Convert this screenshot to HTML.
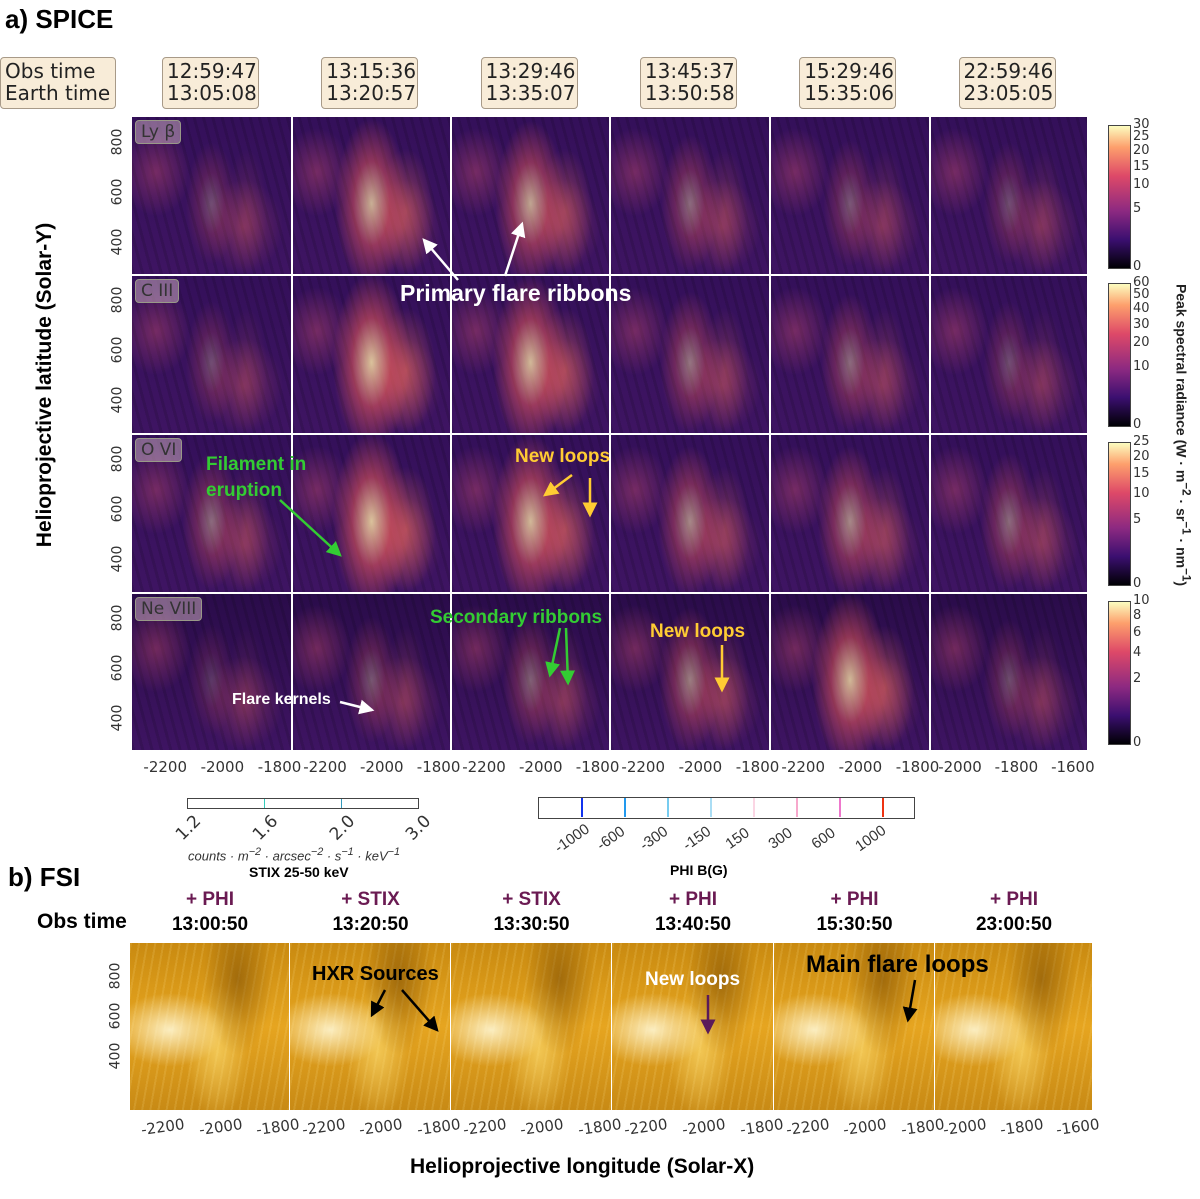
<!DOCTYPE html>
<html><head><meta charset="utf-8">
<style>
body{margin:0;width:1200px;height:1199px;background:#fff;position:relative;overflow:hidden;font-family:"Liberation Sans","DejaVu Sans",sans-serif;}
.a{position:absolute;}
.tb{position:absolute;background:#f8ecd8;border:1px solid #a89a88;border-radius:4px;font-family:"DejaVu Sans",sans-serif;font-size:20px;line-height:22px;color:#222;padding:2px 4px;text-align:center;box-sizing:border-box;}
.panel{position:absolute;overflow:hidden;}
.lab{position:absolute;left:3px;top:3px;background:rgba(200,170,190,0.55);border:1px solid #998;border-radius:4px;font-family:"DejaVu Sans",sans-serif;font-size:17px;color:#333;padding:1px 5px;}
.tk{position:absolute;font-family:"DejaVu Sans",sans-serif;font-size:14px;color:#333;}
.ann{position:absolute;font-weight:bold;white-space:nowrap;}
.cb{position:absolute;border:1px solid #444;}
</style></head><body>
<div class="a" style="left:5px;top:4px;font-size:26px;font-weight:bold;">a) SPICE</div>
<div class="tb" style="left:0;top:57px;width:116px;height:52px;text-align:left;">Obs time<br>Earth time</div>
<div id="root"></div>
<svg class="a" style="left:0;top:0" width="1200" height="1199" id="ov">
<defs>
<marker id="mw" markerWidth="6" markerHeight="6" refX="5" refY="3" orient="auto"><path d="M0,0L6,3L0,6z" fill="#fff"/></marker>
<marker id="mg" markerWidth="6" markerHeight="6" refX="5" refY="3" orient="auto"><path d="M0,0L6,3L0,6z" fill="#3c3"/></marker>
<marker id="my" markerWidth="6" markerHeight="6" refX="5" refY="3" orient="auto"><path d="M0,0L6,3L0,6z" fill="#fc3"/></marker>
<marker id="mk" markerWidth="6" markerHeight="6" refX="5" refY="3" orient="auto"><path d="M0,0L6,3L0,6z" fill="#000"/></marker>
<marker id="mp" markerWidth="6" markerHeight="6" refX="5" refY="3" orient="auto"><path d="M0,0L6,3L0,6z" fill="#5a1a5a"/></marker>
</defs>
<g stroke-width="2.5" fill="none">
<line x1="458" y1="280" x2="424" y2="240" stroke="#fff" marker-end="url(#mw)"/>
<line x1="505" y1="276" x2="522" y2="224" stroke="#fff" marker-end="url(#mw)"/>
<line x1="280" y1="500" x2="340" y2="555" stroke="#3c3" marker-end="url(#mg)"/>
<line x1="572" y1="475" x2="545" y2="495" stroke="#fc3" marker-end="url(#my)"/>
<line x1="590" y1="478" x2="590" y2="515" stroke="#fc3" marker-end="url(#my)"/>
<line x1="560" y1="628" x2="550" y2="675" stroke="#3c3" marker-end="url(#mg)"/>
<line x1="566" y1="628" x2="568" y2="683" stroke="#3c3" marker-end="url(#mg)"/>
<line x1="722" y1="645" x2="722" y2="690" stroke="#fc3" marker-end="url(#my)"/>
<line x1="340" y1="702" x2="372" y2="710" stroke="#fff" marker-end="url(#mw)"/>
<line x1="385" y1="990" x2="372" y2="1015" stroke="#000" marker-end="url(#mk)"/>
<line x1="402" y1="990" x2="437" y2="1030" stroke="#000" marker-end="url(#mk)"/>
<line x1="708" y1="995" x2="708" y2="1032" stroke="#5a1a5a" marker-end="url(#mp)"/>
<line x1="915" y1="980" x2="908" y2="1020" stroke="#000" marker-end="url(#mk)"/>
</g>
</svg>
<div class="ann" style="left:400px;top:280px;font-size:23px;color:#fff;">Primary flare ribbons</div>
<div class="ann" style="left:206px;top:452px;font-size:19px;color:#3c3;line-height:26px;">Filament in<br>eruption</div>
<div class="ann" style="left:515px;top:446px;font-size:19px;color:#fc3;">New loops</div>
<div class="ann" style="left:430px;top:607px;font-size:19px;color:#3c3;">Secondary ribbons</div>
<div class="ann" style="left:650px;top:621px;font-size:19px;color:#fc3;">New loops</div>
<div class="ann" style="left:232px;top:691px;font-size:16px;color:#fff;">Flare kernels</div>
<div class="a" style="left:45px;top:385px;transform:translate(-50%,-50%) rotate(-90deg);font-size:21px;font-weight:bold;white-space:nowrap;">Helioprojective latitude (Solar-Y)</div>
<div class="a" style="left:1183px;top:435px;transform:translate(-50%,-50%) rotate(90deg);font-size:14px;font-weight:bold;white-space:nowrap;color:#222;">Peak spectral radiance (W · m<sup>−2</sup> · sr<sup>−1</sup> · nm<sup>−1</sup>)</div>

<div class="cb" style="left:187px;top:798px;width:230px;height:9px;"></div>
<div class="a" style="left:264px;top:799px;width:1px;height:9px;background:#3cb"></div>
<div class="a" style="left:341px;top:799px;width:1px;height:9px;background:#39b"></div>
<div class="a" style="left:188px;top:846px;font-size:13px;font-style:italic;color:#333;">counts · m<sup>−2</sup> · arcsec<sup>−2</sup> · s<sup>−1</sup> · keV<sup>−1</sup></div>
<div class="a" style="left:249px;top:864px;font-size:14px;font-weight:bold;">STIX 25-50 keV</div>
<div class="cb" style="left:538px;top:797px;width:375px;height:20px;"></div>
<div class="a" style="left:670px;top:862px;font-size:14px;font-weight:bold;">PHI B(G)</div>

<div class="a" style="left:8px;top:862px;font-size:26px;font-weight:bold;">b) FSI</div>
<div class="a" style="left:37px;top:910px;font-size:21px;font-weight:bold;">Obs time</div>
<div class="a" style="left:410px;top:1155px;font-size:21px;font-weight:bold;">Helioprojective longitude (Solar-X)</div>
<div class="ann" style="left:312px;top:963px;font-size:20px;color:#000;">HXR Sources</div>
<div class="ann" style="left:645px;top:969px;font-size:19px;color:#fff;">New loops</div>
<div class="ann" style="left:806px;top:951px;font-size:24px;color:#000;">Main flare loops</div>

<script>
const obsTimes=["12:59:47","13:15:36","13:29:46","13:45:37","15:29:46","22:59:46"];
const earthTimes=["13:05:08","13:20:57","13:35:07","13:50:58","15:35:06","23:05:05"];
const lines=["Ly β","C III","O VI","Ne VIII"];
const yTicks=[800,600,400];
const xTicksA=[-2200,-2000,-1800];
const xTicksLast=[-2000,-1800,-1600];
const cbTicks=[[30,25,20,15,10,5,0],[60,50,40,30,20,10,0],[25,20,15,10,5,0],[10,8,6,4,2,0]];
const cbMax=[30,60,25,10];
const stixTicks=["1.2","1.6","2.0","3.0"];
const phiTicks=[-1000,-600,-300,-150,150,300,600,1000];
const phiColors=["#1133ee","#2299ee","#77ccf0","#aaddf4","#fbd6e4","#f7a8cc","#ee77cc","#ee3311"];
const fsiOverlay=["+ PHI","+ STIX","+ STIX","+ PHI","+ PHI","+ PHI"];
const fsiTimes=["13:00:50","13:20:50","13:30:50","13:40:50","15:30:50","23:00:50"];
const flare=[[0.3,0.8,0.75,0.45,0.35,0.3],[0.3,0.9,0.85,0.5,0.45,0.3],[0.45,0.9,0.85,0.6,0.6,0.45],[0.2,0.35,0.4,0.55,0.85,0.3]];

const root=document.getElementById('root');
const colX=[132,292,451,610,770,930,1088];
const rowY=[117,275,434,593,751];
const fsiX=[130,290,451,612,774,935,1093];
function yPix(v,r){return rowY[r]+26+(800-v)*0.25;}
function xPix(v,c,last){const x0=colX[c];const w=colX[c+1]-x0;return last? x0+w*( (v+2100)/560 ) : x0+w*((v+2310)/560);}

for(let c=0;c<6;c++){
 const d=document.createElement('div');d.className='tb';
 
 
 d.style.left=(162+c*159.3)+'px';d.style.top='57px';d.style.width='97px';d.style.height='52px';
 d.innerHTML=obsTimes[c]+'<br>'+earthTimes[c];root.appendChild(d);
}
const bg=document.createElement('div');bg.className='a';


bg.style.cssText='left:132px;top:117px;width:956px;height:633px;background:#fff';root.appendChild(bg);
for(let r=0;r<4;r++){
 for(let c=0;c<6;c++){
  const p=document.createElement('div');p.className='panel';
  
  
  const x=colX[c]+(c?1:0),y=rowY[r]+(r?1:0),w=colX[c+1]-x-1,h=rowY[r+1]-y-1;
  const f=flare[r][c];
  const g=[];
  g.push(`radial-gradient(ellipse ${12+14*f}% ${30+30*f}% at 50% 55%, rgba(255,235,170,${f*0.9}) 0%, rgba(235,90,90,${f*0.6}) 50%, rgba(0,0,0,0) 100%)`);
  g.push(`radial-gradient(ellipse ${10+10*f}% 40% at 72% 60%, rgba(240,110,90,${f*0.6}) 0%, rgba(0,0,0,0) 100%)`);
  g.push(`radial-gradient(ellipse 25% 30% at 70% 70%, rgba(220,90,100,0.35) 0%, rgba(0,0,0,0) 100%)`);
  g.push(`radial-gradient(ellipse 22% 28% at 15% 35%, rgba(210,80,110,0.4) 0%, rgba(0,0,0,0) 100%)`);
  g.push(`repeating-linear-gradient(75deg, rgba(0,0,0,0.12) 0 3px, rgba(0,0,0,0) 3px 9px)`);
  g.push(`linear-gradient(${r==3?'#2a0c4a':'#34105a'},#3e1462)`);
  p.style.cssText=`left:${x}px;top:${y}px;width:${w}px;height:${h}px;background:${g.join(',')}`;
  if(c==0){const l=document.createElement('div');l.className='lab';l.textContent=lines[r];
   
   p.appendChild(l);}
  root.appendChild(p);
 }
 yTicks.forEach(v=>{const t=document.createElement('div');t.className='tk';
  
  
  t.textContent=v;t.style.left='104px';t.style.top=(yPix(v,r)-9)+'px';t.style.transform='rotate(-90deg)';root.appendChild(t);});
 const cb=document.createElement('div');cb.className='cb';
 
 
 const top=rowY[r]+8,hh=142;
 cb.style.cssText=`left:1108px;top:${top}px;width:21px;height:${hh}px;background:linear-gradient(#fcfdbf,#fd9f6c 15%,#de4968 35%,#8c2981 60%,#3b0f70 80%,#000004)`;
 root.appendChild(cb);
 cbTicks[r].forEach(v=>{const t=document.createElement('div');t.className='tk';
  
  
  const frac=Math.sqrt(v/cbMax[r]);
  t.textContent=v;t.style.left='1133px';t.style.fontSize='13px';t.style.top=(top+hh-frac*hh-8)+'px';root.appendChild(t);});
}
for(let c=0;c<6;c++){
 const ticks=c==5?xTicksLast:xTicksA;
 ticks.forEach(v=>{const t=document.createElement('div');t.className='tk';
  
  
  t.textContent=v;t.style.left=(xPix(v,c,c==5)-20)+'px';t.style.top='758px';t.style.fontSize='15px';root.appendChild(t);});
}
stixTicks.forEach((v,i)=>{const t=document.createElement('div');t.className='tk';
 
 
 const x=187+[0,77,154,230][i];
 t.textContent=v;t.style.cssText+=`;left:${x-12}px;top:818px;font-size:17px;transform:rotate(-45deg)`;root.appendChild(t);});
phiTicks.forEach((v,i)=>{const x=538+43*(i+1);
 const l=document.createElement('div');l.className='a';
 
 
 l.style.cssText=`left:${x}px;top:798px;width:2px;height:19px;background:${phiColors[i]}`;root.appendChild(l);
 const t=document.createElement('div');t.className='tk';
 
 
 t.textContent=v;t.style.cssText+=`;left:${x-28}px;top:830px;font-size:15px;font-family:'Liberation Sans',sans-serif;transform:rotate(-35deg)`;root.appendChild(t);});
for(let c=0;c<6;c++){
 const cx=(fsiX[c]+fsiX[c+1])/2;
 const o=document.createElement('div');o.className='a';
 
 
 o.style.cssText=`left:${cx-50}px;width:100px;text-align:center;top:889px;font-size:19px;font-weight:bold;color:#6a1a52`;o.textContent=fsiOverlay[c];root.appendChild(o);
 const t=document.createElement('div');t.className='a';
 
 
 t.style.cssText=`left:${cx-60}px;width:120px;text-align:center;top:914px;font-size:19px;font-weight:bold;`;t.textContent=fsiTimes[c];root.appendChild(t);
 const p=document.createElement('div');p.className='panel';
 
 
 const w=fsiX[c+1]-fsiX[c]-1;
 p.style.cssText=`left:${fsiX[c]}px;top:943px;width:${w}px;height:167px;background:radial-gradient(ellipse 35% 22% at 25% 52%,rgba(255,250,220,0.85),rgba(0,0,0,0) 100%),radial-gradient(ellipse 22% 45% at 68% 22%,rgba(110,65,0,0.5),rgba(0,0,0,0) 100%),radial-gradient(ellipse 20% 40% at 55% 65%,rgba(255,225,120,0.6),rgba(0,0,0,0) 100%),repeating-linear-gradient(100deg,rgba(255,230,150,0.15) 0 2px,rgba(0,0,0,0) 2px 8px),linear-gradient(#c98a10,#e6a520 50%,#c88a15)`;
 root.appendChild(p);
 const ticks=c==5?xTicksLast:xTicksA;
 ticks.forEach(v=>{const k=document.createElement('div');k.className='tk';
  
  
  const x=c==5? fsiX[c]+(fsiX[c+1]-fsiX[c])*((v+2100)/560) : fsiX[c]+(fsiX[c+1]-fsiX[c])*((v+2310)/560);
  k.textContent=v;k.style.left=(x-20)+'px';k.style.top='1118px';k.style.fontSize='15px';k.style.transform='rotate(-8deg)';root.appendChild(k);});
}
[800,600,400].forEach(v=>{const t=document.createElement('div');t.className='tk';
 
 
 t.textContent=v;t.style.left='102px';t.style.top=(968+(800-v)*0.2)+'px';t.style.transform='rotate(-90deg)';root.appendChild(t);});
document.body.appendChild(document.getElementById('ov'));
document.querySelectorAll('.ann').forEach(a=>document.body.appendChild(a));
</script>
</body></html>
